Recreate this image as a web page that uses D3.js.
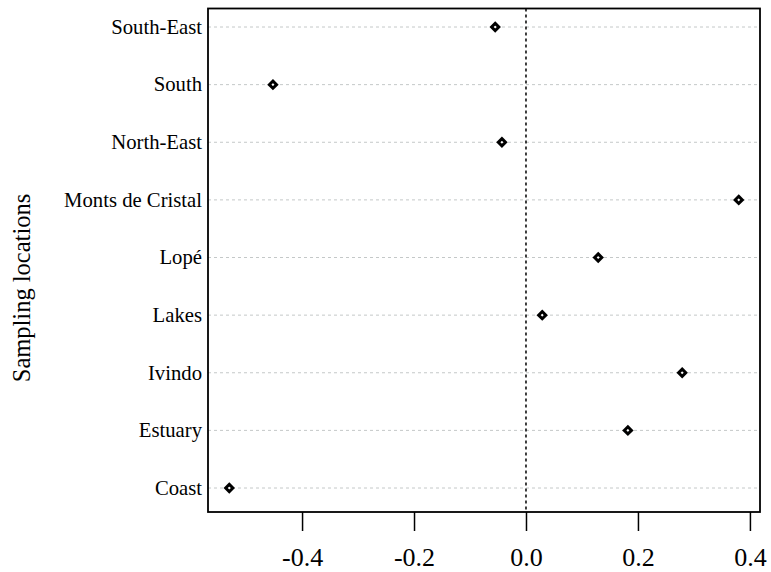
<!DOCTYPE html>
<html>
<head>
<meta charset="utf-8">
<script src="https://cdn.jsdelivr.net/npm/d3@7"></script>
<style>
  html, body { margin: 0; padding: 0; background: #fff; }
  svg { display: block; }
  svg text { font-family: "Liberation Serif", "Times New Roman", Times, serif; }
</style>
</head>
<body>
<svg id="chart" width="771" height="572"></svg>
<script>
// Sampling locations, listed bottom to top as drawn
const locations = ["Coast", "Estuary", "Ivindo", "Lakes", "Lopé", "Monts de Cristal", "North-East", "South", "South-East"];
const values = [-0.530, 0.182, 0.279, 0.029, 0.129, 0.380, -0.043, -0.452, -0.055];
const xTicks = [-0.4, -0.2, 0.0, 0.2, 0.4];
const yTitle = "Sampling locations";

const serif = "Liberation Serif, Times New Roman, serif";
const svg = d3.select("#chart");
const box = { left: 208, right: 760, top: 8.5, bottom: 512 };

const x = d3.scaleLinear().domain([-0.568, 0.418]).range([box.left, box.right]);
const y = d3.scalePoint().domain(locations).range([488, 27]);

// Dashed guide lines for each location
svg.append("g").selectAll("line")
  .data(locations).join("line")
  .attr("x1", box.left).attr("x2", box.right)
  .attr("y1", d => y(d)).attr("y2", d => y(d))
  .attr("stroke", "#c4c8c8").attr("stroke-width", 1)
  .attr("stroke-dasharray", "3,3");

// Reference line at zero
svg.append("line")
  .attr("x1", x(0)).attr("x2", x(0))
  .attr("y1", box.top).attr("y2", box.bottom)
  .attr("stroke", "#000").attr("stroke-width", 1.5)
  .attr("stroke-dasharray", "3,3");

// Plot frame
svg.append("rect")
  .attr("x", box.left).attr("y", box.top)
  .attr("width", box.right - box.left).attr("height", box.bottom - box.top)
  .attr("fill", "none").attr("stroke", "#000").attr("stroke-width", 1.8);

// Bottom axis (plain hyphen for negatives)
const fmt = d => d3.format(".1f")(d).replace("\u2212", "-");
const xAxis = d3.axisBottom(x).tickValues(xTicks).tickFormat(fmt).tickSize(19);
const gx = svg.append("g").attr("transform", `translate(0,${box.bottom})`).call(xAxis);
gx.attr("font-family", serif);
gx.select(".domain").remove();
gx.selectAll(".tick line").attr("stroke", "#000").attr("stroke-width", 1.5);
gx.selectAll(".tick text").attr("fill", "#000").attr("font-size", 26)
  .attr("font-family", serif).attr("y", 54).attr("dy", 0);

// Location labels
svg.append("g").selectAll("text")
  .data(locations).join("text")
  .attr("x", box.left - 6).attr("y", d => y(d))
  .attr("text-anchor", "end").attr("dy", "0.33em")
  .attr("font-family", serif)
  .attr("font-size", 20.7).attr("fill", "#000")
  .text(d => d);

// Axis title
svg.append("text")
  .attr("transform", `translate(22,288) rotate(-90)`)
  .attr("text-anchor", "middle").attr("dy", "0.33em")
  .attr("font-family", serif)
  .attr("font-size", 24.5).attr("fill", "#000")
  .text(yTitle);

// Diamond markers
const diamond = "M0,-3.6L3.6,0L0,3.6L-3.6,0Z";
svg.append("g").selectAll("path")
  .data(locations.map((d, i) => ({ loc: d, v: values[i] }))).join("path")
  .attr("transform", d => `translate(${x(d.v)},${y(d.loc)})`)
  .attr("d", diamond)
  .attr("fill", "#fff").attr("stroke", "#000").attr("stroke-width", 3)
  .attr("stroke-linejoin", "miter");
</script>
</body>
</html>
